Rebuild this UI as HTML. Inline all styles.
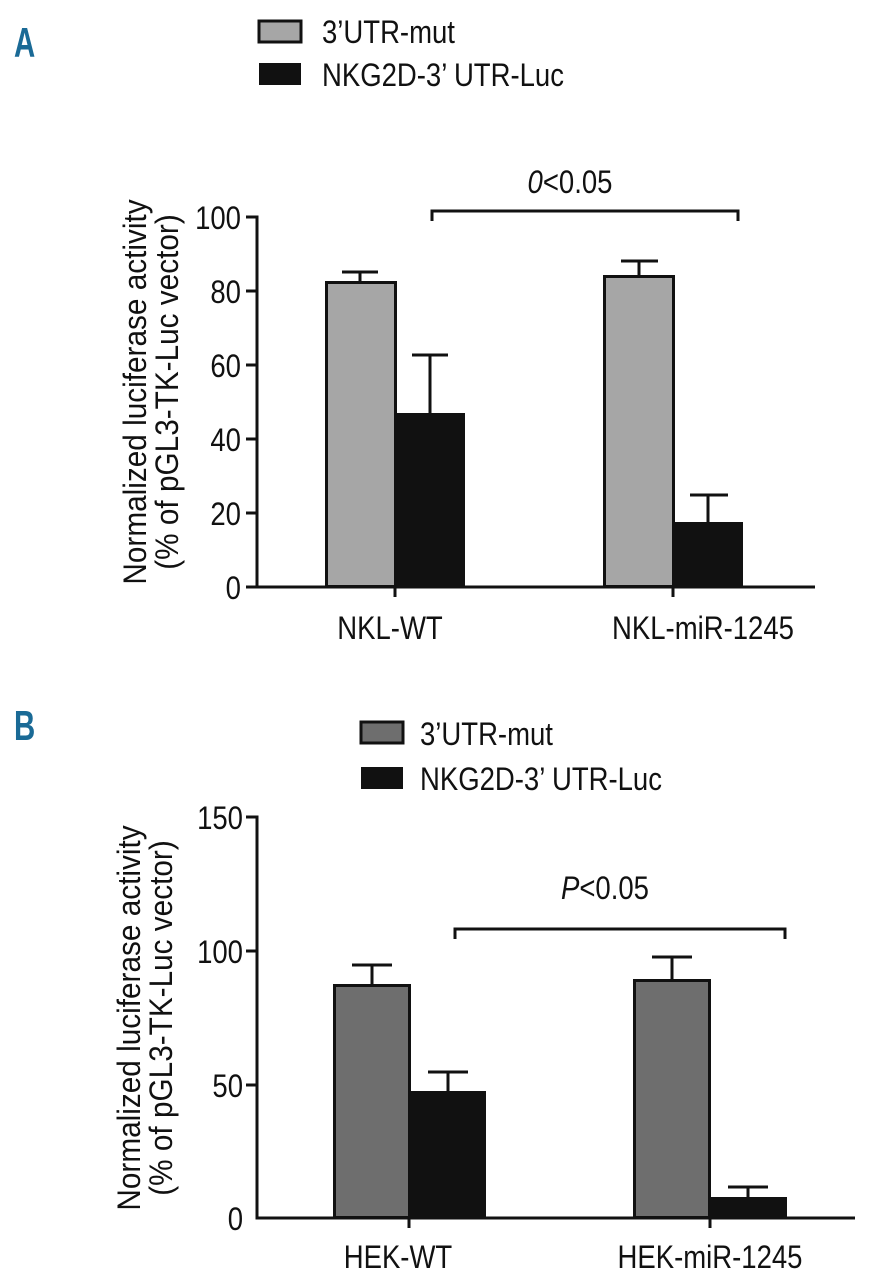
<!DOCTYPE html>
<html><head><style>
body{margin:0;background:#fff;}
svg text{font-family:"Liberation Sans",sans-serif;}
</style></head><body>
<svg width="872" height="1280" viewBox="0 0 872 1280" xmlns="http://www.w3.org/2000/svg">
<g font-size="32" fill="#111">
<!-- Panel A -->
<text x="14" y="57" font-size="42" font-weight="bold" fill="#1a6a96" transform="translate(14 0) scale(0.7 1) translate(-14 0)">A</text>
<rect x="259" y="21" width="42" height="21" fill="#a6a6a6" stroke="#111" stroke-width="3"/>
<rect x="259" y="63" width="42" height="22" fill="#111"/>
<text x="322" y="43" transform="translate(322 0) scale(0.86 1) translate(-322 0)">3’UTR-mut</text>
<text x="322" y="86" transform="translate(322 0) scale(0.86 1) translate(-322 0)">NKG2D-3’ UTR-Luc</text>

<g stroke="#111" stroke-width="3" fill="none">
<path d="M246 217H257V587H815M246 291H257M246 365H257M246 439H257M246 513H257M246 587H257"/>
<path d="M395 587V597M673 587V597"/>
<path d="M432 221V211H738V221"/>
<path d="M360 272V282M342 272H378"/>
<path d="M430 355V413M412 355H448"/>
<path d="M639 261V276M621 261H658"/>
<path d="M708 495V522M690 495H728"/>
</g>
<rect x="326.5" y="282.5" width="69" height="304" fill="#a6a6a6" stroke="#111" stroke-width="3"/>
<rect x="395" y="413" width="70" height="174" fill="#111"/>
<rect x="604.5" y="276.5" width="69" height="310" fill="#a6a6a6" stroke="#111" stroke-width="3"/>
<rect x="673" y="522" width="70" height="65" fill="#111"/>
<g text-anchor="end">
<text x="241" y="229" transform="translate(241 0) scale(0.86 1) translate(-241 0)">100</text>
<text x="241" y="303" transform="translate(241 0) scale(0.86 1) translate(-241 0)">80</text>
<text x="241" y="377" transform="translate(241 0) scale(0.86 1) translate(-241 0)">60</text>
<text x="241" y="451" transform="translate(241 0) scale(0.86 1) translate(-241 0)">40</text>
<text x="241" y="525" transform="translate(241 0) scale(0.86 1) translate(-241 0)">20</text>
<text x="241" y="599" transform="translate(241 0) scale(0.86 1) translate(-241 0)">0</text>
</g>
<text x="390" y="639" text-anchor="middle" transform="translate(390 0) scale(0.86 1) translate(-390 0)">NKL-WT</text>
<text x="703" y="639" text-anchor="middle" transform="translate(703 0) scale(0.86 1) translate(-703 0)">NKL-miR-1245</text>
<text x="570" y="193" text-anchor="middle" transform="translate(570 0) scale(0.86 1) translate(-570 0)"><tspan font-style="italic">0</tspan>&lt;0.05</text>
<text transform="translate(146 392) rotate(-90) scale(0.93 1)" text-anchor="middle">Normalized luciferase activity</text>
<text transform="translate(178 392) rotate(-90) scale(0.93 1)" text-anchor="middle">(% of pGL3-TK-Luc vector)</text>

<!-- Panel B -->
<text x="14" y="740" font-size="42" font-weight="bold" fill="#1a6a96" transform="translate(14 0) scale(0.7 1) translate(-14 0)">B</text>
<rect x="361" y="722" width="42" height="21" fill="#6e6e6e" stroke="#111" stroke-width="3"/>
<rect x="361" y="767" width="42" height="22" fill="#111"/>
<text x="420" y="745" transform="translate(420 0) scale(0.86 1) translate(-420 0)">3’UTR-mut</text>
<text x="420" y="790" transform="translate(420 0) scale(0.86 1) translate(-420 0)">NKG2D-3’ UTR-Luc</text>
<g stroke="#111" stroke-width="3" fill="none">
<path d="M246 817H257V1218H855M246 951H257M246 1085H257"/>
<path d="M409 1218V1228M710 1218V1228"/>
<path d="M455 939V929H785V939"/>
<path d="M372 965V985M352 965H392"/>
<path d="M448 1072V1091M428 1072H468"/>
<path d="M672 957V980M652 957H692"/>
<path d="M748 1187V1197M728 1187H768"/>
</g>
<rect x="334.5" y="985.5" width="75" height="232" fill="#6e6e6e" stroke="#111" stroke-width="3"/>
<rect x="409" y="1091" width="77" height="127" fill="#111"/>
<rect x="634.5" y="980.5" width="75" height="237" fill="#6e6e6e" stroke="#111" stroke-width="3"/>
<rect x="710" y="1197" width="77" height="21" fill="#111"/>
<g text-anchor="end">
<text x="243" y="829" transform="translate(243 0) scale(0.86 1) translate(-243 0)">150</text>
<text x="243" y="963" transform="translate(243 0) scale(0.86 1) translate(-243 0)">100</text>
<text x="243" y="1097" transform="translate(243 0) scale(0.86 1) translate(-243 0)">50</text>
<text x="243" y="1230" transform="translate(243 0) scale(0.86 1) translate(-243 0)">0</text>
</g>
<text x="398" y="1268" text-anchor="middle" transform="translate(398 0) scale(0.86 1) translate(-398 0)">HEK-WT</text>
<text x="710" y="1268" text-anchor="middle" transform="translate(710 0) scale(0.86 1) translate(-710 0)">HEK-miR-1245</text>
<text x="605" y="899" text-anchor="middle" transform="translate(605 0) scale(0.86 1) translate(-605 0)"><tspan font-style="italic">P</tspan>&lt;0.05</text>
<text transform="translate(140 1018) rotate(-90) scale(0.93 1)" text-anchor="middle">Normalized luciferase activity</text>
<text transform="translate(172 1018) rotate(-90) scale(0.93 1)" text-anchor="middle">(% of pGL3-TK-Luc vector)</text>
</g>
</svg>
</body></html>
